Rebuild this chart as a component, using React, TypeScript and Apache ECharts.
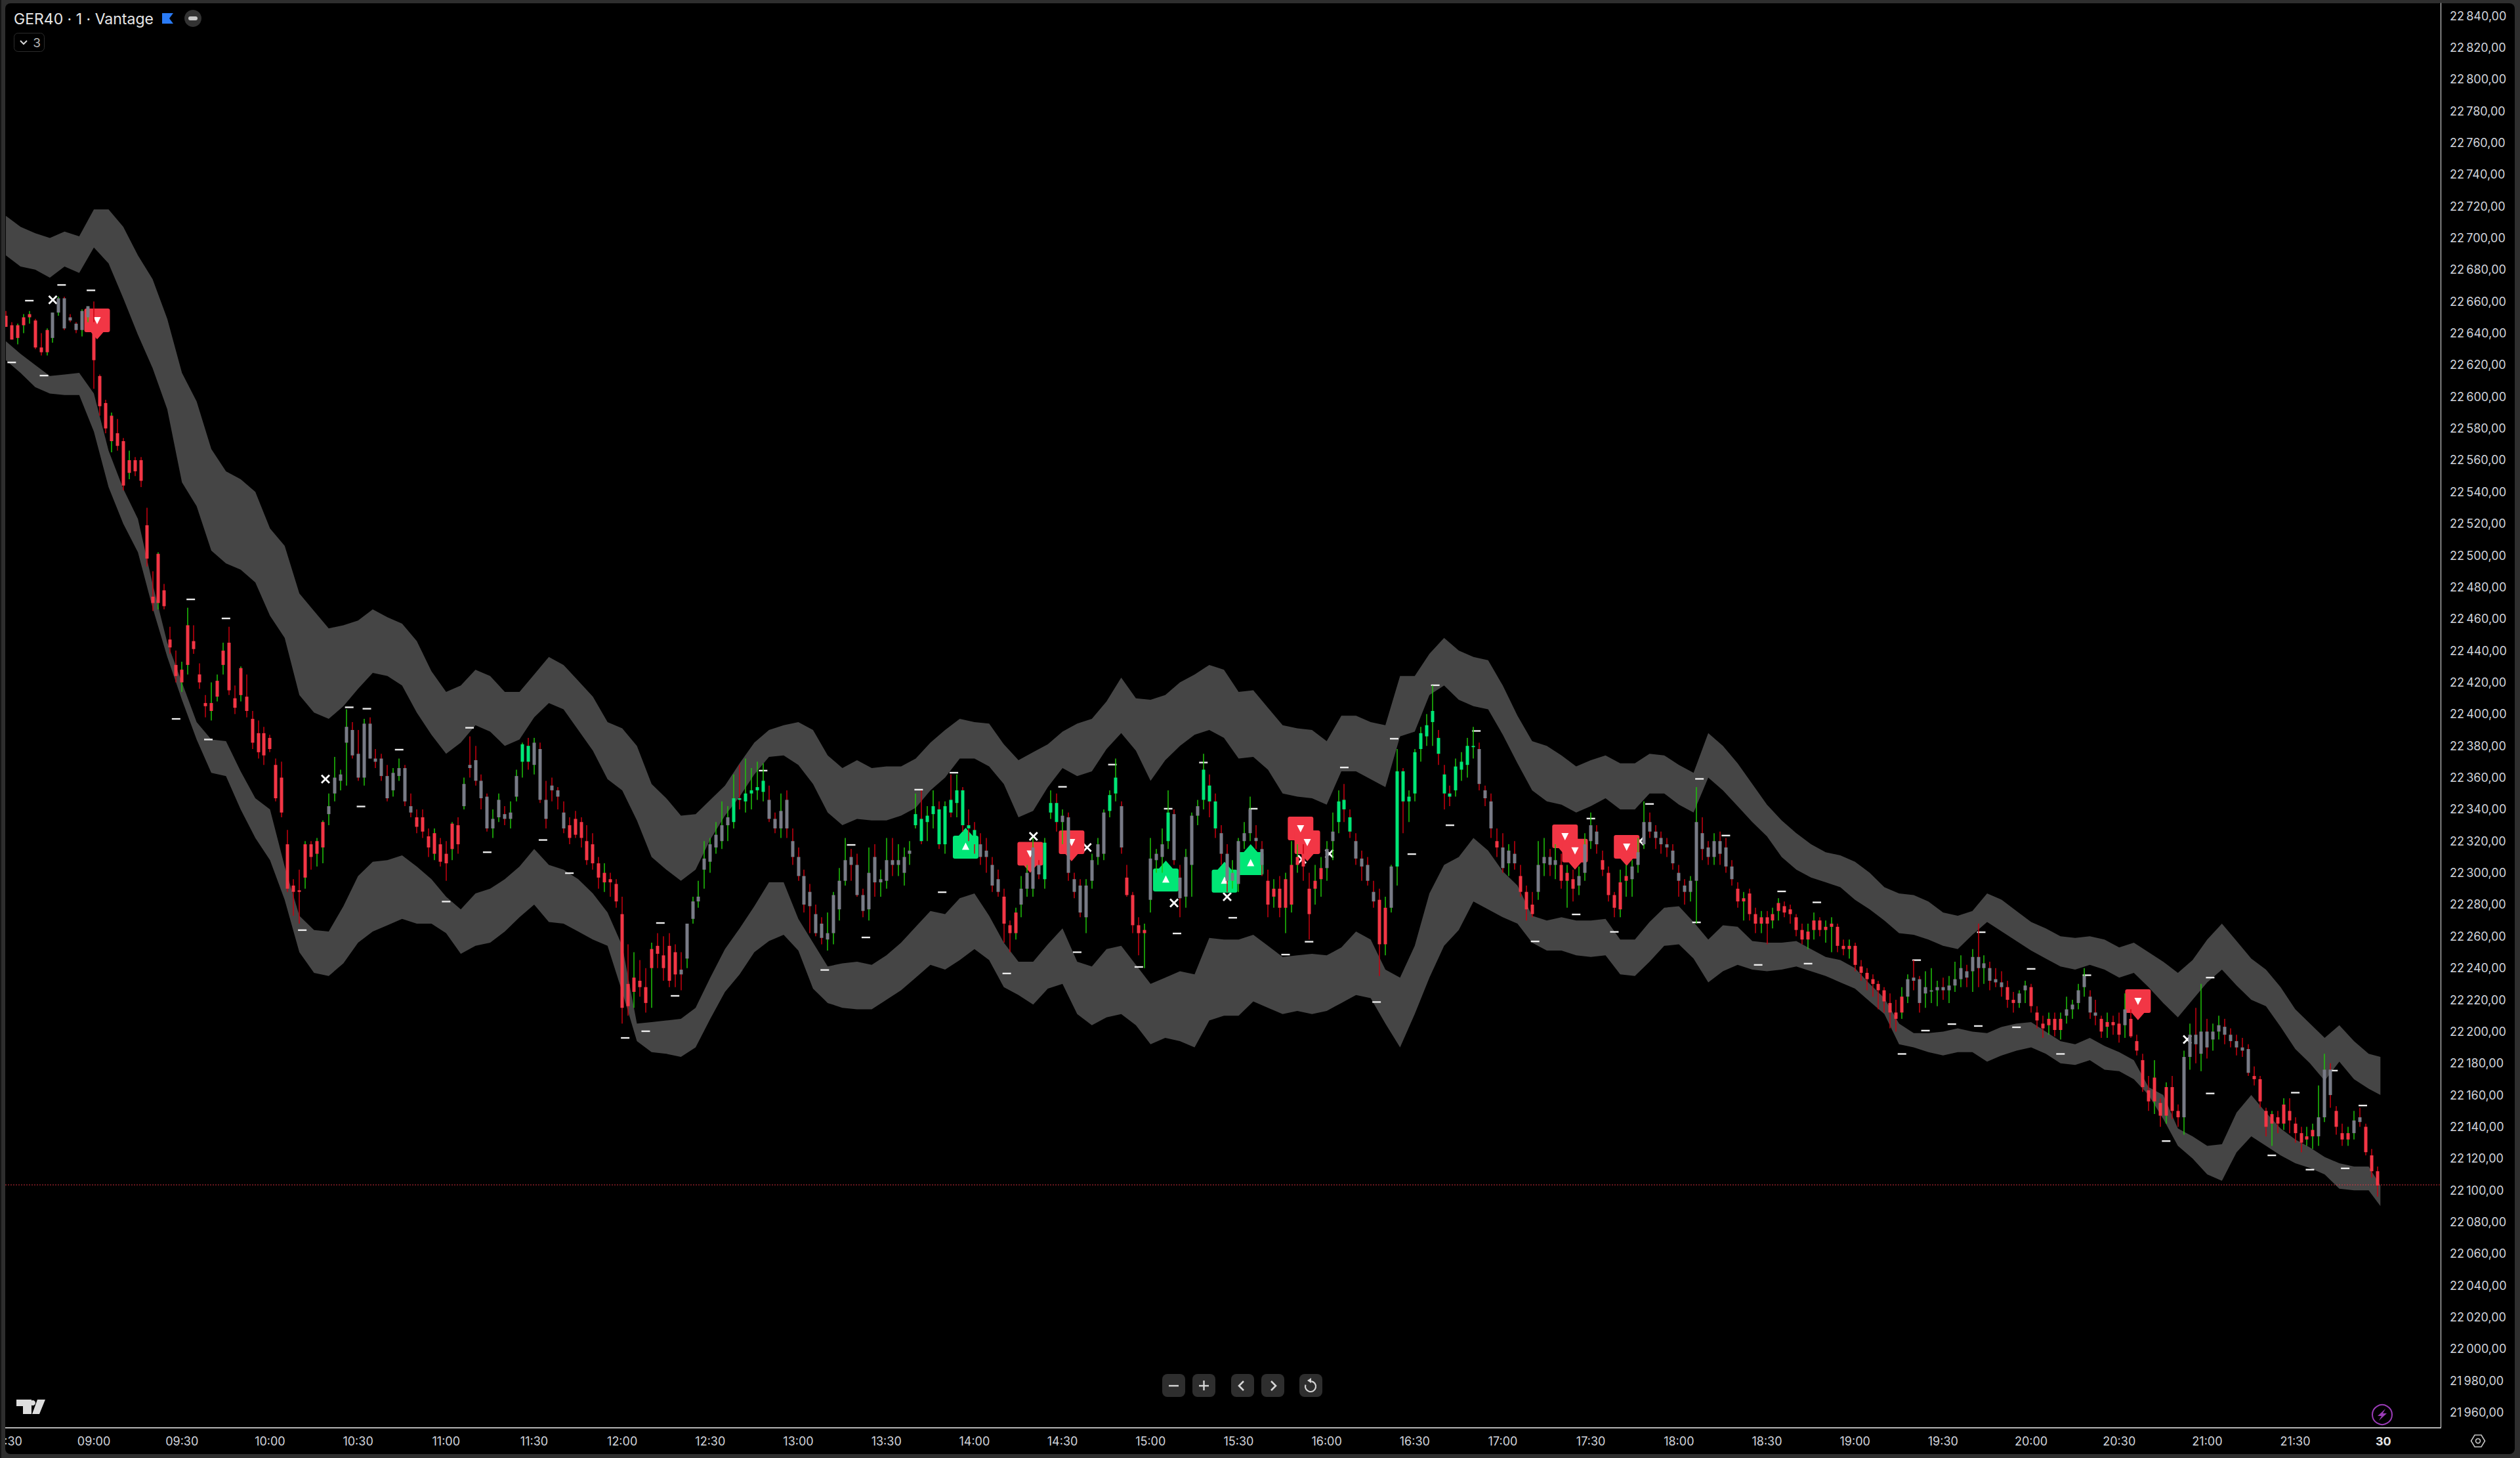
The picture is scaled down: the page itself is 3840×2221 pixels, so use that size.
import React, { useEffect, useRef } from "react";
import * as echarts from "echarts";

const PRICE_BASE = 22000;
const priceTicks = [21960,21980,22000,22020,22040,22060,22080,22100,22120,22140,22160,22180,22200,22220,22240,22260,22280,22300,22320,22340,22360,22380,22400,22420,22440,22460,22480,22500,22520,22540,22560,22580,22600,22620,22640,22660,22680,22700,22720,22740,22760,22780,22800,22820,22840];
const timeTicks = [-30,0,30,60,90,120,150,180,210,240,270,300,330,360,390,420,450,480,510,540,570,600,630,660,690,720,750,780];
const timeLabels = ["08:30","09:00","09:30","10:00","10:30","11:00","11:30","12:00","12:30","13:00","13:30","14:00","14:30","15:00","15:30","16:00","16:30","17:00","17:30","18:00","18:30","19:00","19:30","20:00","20:30","21:00","21:30","30"];
const lastPrice = 22103.4;

const bandMinutes = [-30,-25,-20,-15,-10,-5,0,5,10,15,20,25,30,35,40,45,50,55,60,65,70,75,80,85,90,95,100,105,110,115,120,125,130,135,140,145,150,155,160,165,170,175,180,185,190,195,200,205,210,215,220,225,230,235,240,245,250,255,260,265,270,275,280,285,290,295,300,305,310,315,320,325,330,335,340,345,350,355,360,365,370,375,380,385,390,395,400,405,410,415,420,425,430,435,440,445,450,455,460,465,470,475,480,485,490,495,500,505,510,515,520,525,530,535,540,545,550,555,560,565,570,575,580,585,590,595,600,605,610,615,620,625,630,635,640,645,650,655,660,665,670,675,680,685,690,695,700,705,710,715,720,725,730,735,740,745,750,755,760,765,770,775,779];

const upperBandTop = [
714,707,703,700,704,701,718,718,707,689,674,649,
615,597,567,553,548,540,517,506,476,465,454,456,
459,466,461,457,446,427,414,418,428,424,414,414,
425,436,431,421,411,395,391,380,356,347,336,337,
346,355,369,382,390,393,395,390,374,366,371,366,
367,367,372,382,390,397,395,394,381,371,376,381,
389,394,397,408,423,410,409,412,420,425,431,428,
414,415,404,393,391,390,383,399,399,395,393,424,
424,438,448,440,436,434,418,399,383,380,374,367,
371,374,369,369,375,374,368,363,388,380,369,356,
343,333,325,318,313,311,307,300,291,287,286,282,
275,273,276,287,283,276,269,265,260,259,260,258,
253,256,250,244,237,245,258,268,257,246,239,228,
214,205,196,204,194,186,184];
const upperBandBottom = [
689,682,680,675,682,678,694,684,662,639,618,592,
546,531,503,495,491,483,462,448,412,401,397,405,
416,426,424,418,401,387,375,382,393,389,380,384,
398,407,403,390,377,359,352,333,310,302,295,302,
321,336,348,362,373,374,368,356,338,330,334,333,
333,336,341,352,360,372,372,367,356,335,339,354,
366,361,364,378,388,377,358,371,380,387,390,385,
372,373,365,350,348,347,343,364,364,359,354,386,
389,412,418,409,405,403,387,369,352,345,343,338,
342,347,340,340,350,350,343,338,360,352,342,332,
323,310,302,297,294,291,283,277,270,262,261,258,
254,252,261,269,263,257,251,246,241,239,242,239,
234,237,228,218,209,220,231,239,229,220,216,203,
189,180,169,181,170,164,160];
const lowerBandTop = [
635,627,620,613,614,615,602,566,542,523,482,445,
420,395,384,383,364,347,340,304,273,264,263,279,
298,307,308,311,304,296,285,277,287,290,296,304,
315,305,302,296,287,275,254,205,206,207,208,215,
234,252,265,279,294,294,271,256,241,243,244,242,
248,256,266,276,274,284,287,273,256,244,244,255,
265,244,241,252,254,242,230,234,238,236,259,258,
258,261,254,247,248,249,248,253,263,258,239,234,
254,287,305,310,322,314,301,292,273,270,272,270,
270,271,258,258,269,278,279,269,258,267,266,257,
256,256,257,252,247,245,240,230,221,205,199,199,
200,202,200,199,203,205,206,200,194,192,196,191,
187,182,165,160,139,134,128,129,149,160,149,139,
132,127,121,117,115,115,103];
const lowerBandBottom = [
623,615,606,602,601,601,578,543,520,502,467,436,
409,384,363,361,340,322,308,283,250,237,235,243,
256,263,267,271,268,268,262,249,254,256,263,272,
280,269,268,263,258,254,225,194,187,186,184,190,
208,225,236,250,257,261,251,227,218,215,214,214,
220,226,234,242,239,245,252,245,228,223,217,227,
230,211,204,209,211,204,192,196,194,190,207,210,
210,219,215,211,213,211,213,218,223,221,205,190,
211,234,254,264,282,277,272,268,256,251,251,248,
247,248,236,235,244,254,255,246,231,238,242,239,
238,239,241,238,235,231,227,219,211,192,190,187,
185,187,187,181,185,188,190,186,180,179,182,176,
175,170,160,145,128,120,110,106,124,134,128,122,
117,114,110,101,100,100,90];

// Two-minute candles [open, high, low, close], offsets from PRICE_BASE
const candles0830 = [[651,654,644,644],[645,647,636,636],[637,646,633,645],[645,652,640,650],[650,654,646,652],[648,649,630,631],[631,640,626,628],[628,643,626,642],[637,653,634,653],[653,663,651,662],[662,663,642,643],[650,652,647,648],[646,647,640,642],[642,655,638,654],[650,657,647,657]];
const candles0900 = [[647,660,605,623],[613,614,588,594],[596,598,577,580],[572,590,565,588],[577,586,566,569],[572,574,541,544],[552,566,548,560],[560,562,550,553],[560,562,543,547],[519,530,493,498],[474,490,465,470],[470,502,466,501],[478,482,466,468],[447,455,438,442],[431,440,420,424],[420,433,414,428],[431,467,425,456],[446,456,438,441],[425,432,416,420],[407,412,398,405],[402,420,396,407],[411,425,408,421],[431,445,425,440],[445,455,412,415],[410,418,400,404],[412,430,408,429],[411,425,398,402],[397,402,378,382],[388,396,372,376],[388,392,368,374]];
const candles1000 = [[385,387,376,378],[368,372,345,347],[360,370,335,338],[318,327,288,290],[292,296,273,288],[289,302,268,288],[297,320,290,318],[318,320,302,310],[312,322,304,320],[316,333,306,332],[337,350,330,342],[350,373,345,360],[358,365,352,362],[382,403,355,392],[390,395,372,374],[375,390,358,360],[360,397,355,394],[394,398,372,372],[372,378,366,370],[372,375,358,361],[361,368,345,347],[352,366,348,363],[361,372,358,366],[366,368,342,345],[342,350,335,338],[335,340,325,329],[335,340,322,326],[323,328,310,316],[312,328,308,325],[318,322,304,307]];
const candles1100 = [[312,320,295,306],[315,332,308,331],[330,335,312,318],[342,360,340,356],[368,386,360,366],[371,380,355,358],[358,362,340,347],[348,350,326,328],[328,340,322,334],[335,350,332,346],[337,342,330,334],[334,345,328,338],[348,365,345,361],[370,382,360,381],[380,385,365,370],[368,385,362,382],[378,382,344,346],[346,358,328,334],[355,360,345,352],[352,354,340,348],[338,345,325,328],[330,335,318,322],[334,339,322,324],[332,335,316,322],[320,330,305,308],[318,325,302,306],[306,310,290,297],[294,306,288,300],[296,300,285,294],[293,296,278,282]];
const candles1200 = [[274,285,205,215],[230,255,210,216],[225,250,215,234],[232,245,222,228],[228,240,212,218],[240,256,215,252],[254,262,240,249],[248,260,232,240],[254,262,228,232],[250,255,228,236],[239,250,226,236],[246,268,240,268],[271,285,268,282],[282,295,278,285],[302,320,290,309],[307,322,300,318],[316,332,312,324],[320,345,315,330],[330,342,320,335],[332,362,328,347],[347,368,340,346],[345,372,338,350],[350,366,340,352],[352,370,346,354],[351,369,345,358],[346,355,332,334],[334,338,325,328],[328,350,322,339],[346,352,322,328],[320,328,305,310]];
const candles1300 = [[310,316,295,298],[298,302,275,280],[288,293,262,279],[274,280,260,262],[268,272,255,259],[258,275,251,262],[262,288,255,286],[277,303,270,295],[295,322,292,308],[310,315,295,305],[305,312,285,286],[286,290,272,276],[277,316,270,300],[310,318,285,294],[294,302,285,296],[295,322,290,308],[308,322,298,305],[305,318,298,308],[300,316,292,310],[312,320,305,314],[330,350,328,337],[334,352,318,320],[332,342,320,336],[337,352,328,342],[340,345,315,318],[318,345,312,342],[346,362,335,338],[344,362,335,352],[352,354,326,330],[330,340,320,328]];
const candles1400 = [[327,332,312,318],[318,325,305,310],[314,322,300,310],[305,310,288,292],[296,302,285,288],[285,290,256,268],[267,270,250,262],[262,278,258,275],[280,298,272,290],[290,305,285,300],[290,322,285,316],[305,308,296,299],[296,322,290,319],[338,352,334,344],[344,350,326,332],[332,340,318,336],[335,338,295,300],[296,300,284,288],[292,296,272,275],[272,296,262,292],[295,312,290,308],[310,322,305,318],[312,340,308,338],[339,352,335,349],[350,372,345,360],[342,345,312,316],[297,305,285,286],[286,288,262,267],[267,272,248,262],[262,268,240,264]];
const candles1500 = [[283,322,275,309],[308,315,300,312],[310,328,300,318],[320,352,315,338],[337,340,305,308],[297,305,272,284],[285,315,278,310],[305,338,285,336],[336,346,330,342],[346,375,340,365],[355,362,335,345],[345,350,322,328],[325,330,305,312],[312,318,288,295],[295,308,290,300],[293,322,288,320],[320,332,315,325],[325,348,320,340],[322,330,315,320],[315,320,298,305],[295,302,272,280],[285,296,278,290],[290,298,272,278],[278,300,262,296],[280,320,275,305],[305,318,300,310],[312,318,295,304],[290,300,258,274],[290,305,280,295],[296,310,285,303]];
const candles1600 = [[303,320,295,315],[320,338,308,326],[332,352,325,345],[346,356,332,340],[335,340,322,326],[320,325,305,309],[309,314,295,304],[305,310,292,295],[288,295,278,282],[283,290,235,255],[255,285,248,278],[278,305,275,304],[304,378,292,364],[364,366,325,345],[345,352,332,348],[350,378,345,376],[378,392,370,388],[386,400,380,393],[395,418,380,402],[385,390,368,375],[362,368,340,350],[350,355,342,348],[352,372,348,367],[365,376,358,370],[368,385,360,380],[380,392,372,380],[378,382,352,356],[352,355,342,347],[345,350,322,328],[320,328,310,316]];
const candles1700 = [[316,325,300,303],[306,318,298,314],[312,320,302,306],[298,305,285,288],[288,292,270,277],[280,288,272,274],[288,320,283,305],[306,322,298,310],[310,315,298,305],[305,318,296,308],[305,312,290,295],[295,305,278,300],[296,302,282,290],[292,304,286,298],[300,325,295,318],[320,338,315,330],[326,330,312,318],[308,314,298,302],[300,304,282,286],[286,288,272,278],[277,302,272,294],[295,305,285,298],[296,308,285,304],[305,322,300,313],[318,345,315,332],[332,338,322,326],[326,330,315,322],[322,326,312,318],[318,322,310,316],[314,318,302,306]];
const candles1800 = [[300,305,285,295],[292,296,280,288],[288,298,282,295],[295,354,268,332],[325,335,308,315],[316,320,305,310],[310,325,305,320],[320,326,305,312],[316,322,300,304],[304,308,292,296],[290,294,278,282],[282,288,270,284],[287,290,270,274],[274,278,262,268],[268,276,262,272],[272,276,255,268],[270,278,265,274],[276,284,270,281],[279,282,272,275],[277,280,268,274],[272,274,260,264],[264,268,255,258],[258,268,252,263],[264,275,258,270],[270,272,260,264],[264,270,256,266],[266,272,250,268],[266,268,250,254],[254,258,248,252],[252,258,246,254]];
const candles1900 = [[254,256,238,242],[241,245,232,237],[237,240,226,233],[233,236,222,230],[230,232,214,226],[226,228,212,219],[218,224,202,212],[212,220,200,208],[212,228,208,222],[222,236,218,233],[234,245,226,232],[233,235,212,218],[224,238,215,228],[226,240,218,226],[226,232,216,228],[228,234,220,226],[226,235,218,229],[229,244,225,233],[233,248,228,240],[238,242,228,234],[238,252,225,247],[247,268,228,240],[240,248,230,243],[240,244,226,232],[233,240,228,231],[231,238,222,228],[228,232,215,220],[220,225,212,218],[218,226,215,224],[226,232,218,229]];
const candles2000 = [[228,230,212,216],[212,216,202,207],[205,210,196,202],[204,212,198,208],[208,212,197,201],[201,212,195,208],[210,222,205,214],[214,220,208,217],[218,230,214,226],[228,240,222,235],[222,226,208,212],[212,220,204,210],[208,210,196,200],[203,212,196,206],[206,210,198,204],[205,212,193,198],[204,224,196,214],[208,214,196,197],[194,198,185,188],[182,186,162,165],[163,172,150,156],[156,182,148,171],[155,158,140,147],[147,168,142,165],[165,172,145,150],[150,154,140,146],[146,188,135,184],[184,205,176,198],[198,215,180,192],[186,230,175,200]];
const candles2100 = [[200,208,183,190],[195,205,188,200],[200,210,195,204],[203,208,192,198],[198,202,190,194],[194,198,185,190],[190,196,184,188],[189,192,172,174],[172,178,166,170],[170,172,152,156],[150,152,134,140],[142,150,128,148],[146,150,136,142],[142,158,138,154],[150,158,136,144],[142,146,130,136],[136,140,124,130],[132,140,128,134],[134,142,126,138],[134,166,128,146],[146,186,143,176],[176,180,152,160],[150,153,135,140],[136,142,128,132],[132,140,128,136],[136,150,132,144],[146,152,140,143],[140,142,122,124],[122,126,108,112],[112,115,96,103]];
const allCandles = [candles0830,candles0900,candles1000,candles1100,candles1200,candles1300,candles1400,candles1500,candles1600,candles1700,candles1800,candles1900,candles2000,candles2100].flat();
const firstCandleMinute = -30;
const candleStep = 2;

// From which minute each body colour runs: r = red, g = green, n = neutral grey
const toneRuns: [number,string][] = [[-30,"r"],[-15,"n"],[-1,"r"],[80,"n"],[110,"r"],[126,"n"],[146,"g"],[150,"n"],[161,"r"],[200,"n"],[218,"g"],[230,"n"],[280,"g"],[302,"n"],[310,"r"],[316,"n"],[323,"g"],[330,"n"],[345,"g"],[350,"n"],[352,"r"],[360,"n"],[366,"g"],[368,"n"],[377,"g"],[384,"n"],[400,"r"],[420,"n"],[423,"g"],[430,"n"],[438,"r"],[442,"n"],[444,"g"],[472,"n"],[477,"r"],[480,"n"],[486,"r"],[492,"n"],[500,"r"],[505,"n"],[514,"r"],[524,"n"],[560,"r"],[618,"n"],[652,"r"],[656,"n"],[660,"r"],[672,"n"],[684,"r"],[692,"n"],[694,"r"],[712,"n"],[736,"r"],[758,"n"],[764,"r"],[770,"n"],[774,"r"]];

const pivots = [[-22,22660.5],[-11,22670.4],[-1,22667],[-28,22621.6],[-17,22613.3],[33,22472.3],[45,22460.3],[28,22397],[39,22384],[87,22404.3],[93,22403.4],[104,22377.6],[91,22341.8],[128,22391.4],[153,22320.7],[134,22313],[162,22299.8],[120,22281.9],[71,22263.9],[181,22196],[188,22200.2],[193,22268.4],[228,22364.4],[281,22352.4],[258,22317.6],[293,22363.1],[289,22287.8],[263,22259.3],[249,22238.8],[198,22222.5],[311,22236.6],[330,22354.2],[335,22250],[347,22368.2],[366,22340.4],[378,22369.5],[395,22340.4],[388,22271.7],[369,22261.8],[356,22240.7],[426,22366.4],[414,22256.6],[406,22248.5],[437,22218.6],[443,22384.5],[457,22418.2],[471,22389.4],[462,22330],[449,22311.8],[491,22256.8],[510,22334.2],[505,22273.8],[530,22343.4],[518,22262.8],[547,22359.2],[546,22268.8],[556,22323.5],[567,22242],[575,22288.3],[587,22281.4],[584,22242.8],[621,22245],[633,22204.7],[624,22200.6],[616,22185.9],[643,22262.6],[660,22239.5],[679,22235.5],[642,22203.5],[655,22202.7],[670,22185.9],[706,22131],[721,22234],[721,22161],[742,22122],[750,22161.5],[763,22175.4],[755,22113],[767,22113.8],[773,22153.4]];
const crossMarks = [[-14,22661],[78.9,22359.1],[320.1,22323],[338.4,22316],[368,22281],[386.1,22285],[411.6,22308.5],[420.9,22312],[526.7,22320],[713.2,22195]];
const sellFlags = [[1.1,22636.1],[319,22300],[333.1,22307.3],[411.1,22316],[413.4,22307.3],[501.2,22311],[504.6,22302],[522.2,22304.4],[696.4,22207.2]];
const buyFlags = [[297,22328.4],[365.2,22307.7],[385.2,22307],[394.1,22318]];

const RED = "#f23645", GREEN = "#00e676", GREY = "#787b86", WICK_RED = "#c8000f", WICK_GREEN = "#1fc40a", BAND = "#454545";
const SELL_PATH = "path://M3 0H36Q39 0 39 3V33Q39 36 36 36H29L19.5 47L10 36H3Q0 36 0 33V3Q0 0 3 0Z";
const BUY_PATH = "path://M19.5 0L30 12H36Q39 12 39 15V44Q39 47 36 47H3Q0 47 0 44V15Q0 12 3 12H9Z";
const CROSS_PATH = "path://M2 0L7 5L12 0L14 2L9 7L14 12L12 14L7 9L2 14L0 12L5 7L0 2Z";

function toneAt(minute: number) {
  let t = "r";
  for (const [m, c] of toneRuns) if (minute >= m) t = c;
  return t;
}

function bandSeries(name: string, top: number[], bottom: number[]) {
  const data = bandMinutes.map((m, i) => [m, PRICE_BASE + top[i], PRICE_BASE + bottom[i]]);
  return {
    type: "custom", name, z: 1, silent: true, clip: true, data,
    encode: { x: 0, y: [1, 2] },
    renderItem: (params: any, api: any) => {
      if (params.dataIndex !== 0) return null;
      const pts: number[][] = [];
      data.forEach((d) => pts.push(api.coord([d[0], d[1]])));
      data.slice().reverse().forEach((d) => pts.push(api.coord([d[0], d[2]])));
      return { type: "polygon", shape: { points: pts }, style: { fill: BAND } };
    },
  };
}

const FONT = "Inter";
const LINE = "#d6d6d6";
function btn(x: number) {
  return { type: "rect", z: 50, shape: { x, y: 2093, width: 35, height: 35, r: 8 }, style: { fill: "#2e2e2e" } };
}
const glyph = (points: number[][], width = 2.4, stroke = LINE) => ({ type: "polyline", z: 51, shape: { points }, style: { stroke, lineWidth: width, fill: "none" } });

const graphics: any[] = [
  { type: "rect", z: -5, shape: { x: 8, y: 5, width: 3824, height: 2210, r: 8 }, style: { fill: "#000" } },
  { type: "rect", z: 40, shape: { x: 0, y: 0, width: 8, height: 2221 }, style: { fill: "#2e2e2e" } },
  { type: "rect", z: 41, shape: { x: 0, y: 0, width: 2, height: 2221 }, style: { fill: "#141414" } },
  { type: "text", z: 50, style: { text: "GER40 · 1 · Vantage", x: 21, y: 29, verticalAlign: "middle", fill: "#e6e6e6", fontFamily: FONT, fontSize: 23 } },
  { type: "polygon", z: 50, shape: { points: [[247,20],[264,20],[258,28],[264,36],[247,36]] }, style: { fill: "#2a7bf6" } },
  { type: "circle", z: 50, shape: { cx: 294, cy: 28, r: 13 }, style: { fill: "#333" } },
  { type: "rect", z: 51, shape: { x: 287, y: 25, width: 14, height: 6, r: 3 }, style: { fill: "#c8c8c8" } },
  { type: "rect", z: 50, shape: { x: 21.5, y: 50.5, width: 46, height: 28, r: 6 }, style: { fill: "none", stroke: "#2c2c2c", lineWidth: 1 } },
  glyph([[31,62],[36,67],[41,62]], 2),
  { type: "text", z: 50, style: { text: "3", x: 56, y: 65, align: "center", verticalAlign: "middle", fill: "#b5b5b5", fontFamily: FONT, fontSize: 19 } },
  { type: "polygon", z: 50, shape: { points: [[25,2132],[48,2132],[48,2154],[35,2154],[35,2142],[25,2142]] }, style: { fill: "#dedede" } },
  { type: "circle", z: 50, shape: { cx: 50, cy: 2137, r: 4 }, style: { fill: "#dedede" } },
  { type: "polygon", z: 50, shape: { points: [[57,2132],[69,2132],[60,2154],[49,2154]] }, style: { fill: "#dedede" } },
  btn(1771), btn(1817), btn(1876), btn(1922), btn(1980),
  glyph([[1781,2111],[1796,2111]]),
  glyph([[1827,2111],[1842,2111]]), glyph([[1834.5,2103],[1834.5,2118]]),
  glyph([[1895,2104],[1888,2111],[1895,2118]], 2.6), glyph([[1937,2104],[1944,2111],[1937,2118]], 2.6),
  { type: "arc", z: 51, shape: { cx: 1997, cy: 2112, r: 8, startAngle: -Math.PI * 0.45, endAngle: Math.PI * 1.1, clockwise: true }, style: { stroke: LINE, lineWidth: 2.2, fill: "none" } },
  { type: "polygon", z: 51, shape: { points: [[1998,2099],[1998,2107],[1992,2103]] }, style: { fill: LINE } },
  { type: "circle", z: 50, shape: { cx: 3630, cy: 2155, r: 15 }, style: { fill: "none", stroke: "#9b3cb8", lineWidth: 2 } },
  { type: "polygon", z: 50, shape: { points: [[3635,2146],[3623,2157],[3629,2157],[3625,2164],[3637,2153],[3631,2153]] }, style: { fill: "#9b3cb8" } },
  { type: "polygon", z: 50, shape: { points: [[3765.5,2195],[3771,2186],[3781,2186],[3786.5,2195],[3781,2204],[3771,2204]] }, style: { fill: "none", stroke: "#c4c4c4", lineWidth: 1.6 } },
  { type: "circle", z: 50, shape: { cx: 3776, cy: 2195, r: 3.5 }, style: { fill: "none", stroke: "#c4c4c4", lineWidth: 1.6 } },
];

export default function App() {
  const ref = useRef<HTMLDivElement>(null);
  useEffect(() => {
    document.body.style.margin = "0";
    document.body.style.background = "#2e2e2e";
    const chart = echarts.init(ref.current!, undefined, { renderer: "svg" });
    const rows = allCandles.map((c, i) => {
      const minute = firstCandleMinute + candleStep * i;
      return [minute, PRICE_BASE + c[0], PRICE_BASE + c[1], PRICE_BASE + c[2], PRICE_BASE + c[3]];
    });
    chart.setOption({
      animation: false,
      backgroundColor: "#2e2e2e",
      grid: { left: 8, top: 5, width: 3711, height: 2170, containLabel: false, outerBoundsMode: "none" },
      xAxis: {
        type: "value", min: -30.2, max: 799.5, splitLine: { show: false },
        axisLine: { onZero: false, lineStyle: { color: "#b4b4b4", width: 2 } }, axisTick: { show: false },
        axisLabel: {
          customValues: timeTicks, margin: 11, color: "#d1d4dc", fontFamily: FONT, fontSize: 18,
          hideOverlap: false, showMinLabel: true, showMaxLabel: true,
          formatter: (v: number) => { const t = timeLabels[timeTicks.indexOf(v)] ?? ""; return t === "30" ? "{b|30}" : t; },
          rich: { b: { fontWeight: 700, fontSize: 18, fontFamily: FONT, color: "#e6e6e6" } },
        },
      },
      yAxis: {
        type: "value", position: "right", min: 21950.35, max: 22847.86, splitLine: { show: false },
        axisLine: { show: true, onZero: false, lineStyle: { color: "#e8e8e8", width: 1 } }, axisTick: { show: false },
        axisLabel: {
          customValues: priceTicks, margin: 14, color: "#d1d4dc", fontFamily: FONT, fontSize: 18, align: "left", hideOverlap: false,
          formatter: (v: number) => { const s = String(Math.round(v)); return s.slice(0, 2) + "\u202f" + s.slice(2) + ",00"; },
        },
      },
      series: [
        bandSeries("upper band", upperBandTop, upperBandBottom),
        bandSeries("lower band", lowerBandTop, lowerBandBottom),
        { type: "line", name: "last price", z: 1, silent: true, showSymbol: false, data: [[-30.2, lastPrice], [799.5, lastPrice]], lineStyle: { color: RED, width: 1, type: [2, 2], opacity: 0.85 } },
        { type: "scatter", name: "pivots", z: 2, silent: true, symbol: "rect", symbolSize: [13, 2.4], data: pivots, itemStyle: { color: "#ececec", opacity: 1 } },
        { type: "scatter", name: "crosses", z: 2, silent: true, symbol: CROSS_PATH, symbolSize: 14, data: crossMarks, itemStyle: { color: "#ffffff", opacity: 1 } },
        { type: "scatter", name: "sell", z: 3, silent: true, symbol: SELL_PATH, symbolSize: [39, 47], symbolOffset: [0, -23.5], data: sellFlags, itemStyle: { color: RED, opacity: 1 } },
        { type: "scatter", name: "sell arrow", z: 3, silent: true, symbol: "triangle", symbolRotate: 180, symbolSize: [11, 11], symbolOffset: [0, -28.5], data: sellFlags, itemStyle: { color: "#fff", opacity: 1 } },
        { type: "scatter", name: "buy", z: 3, silent: true, symbol: BUY_PATH, symbolSize: [39, 47], symbolOffset: [0, 23.5], data: buyFlags, itemStyle: { color: GREEN, opacity: 1 } },
        { type: "scatter", name: "buy arrow", z: 3, silent: true, symbol: "triangle", symbolSize: [11, 11], symbolOffset: [0, 28], data: buyFlags, itemStyle: { color: "#fff", opacity: 1 } },
        {
          type: "custom", name: "GER40", z: 5, silent: true, clip: true, data: rows,
          encode: { x: 0, y: [1, 2, 3, 4] },
          renderItem: (params: any, api: any) => {
            const m = api.value(0), o = api.value(1), h = api.value(2), l = api.value(3), c = api.value(4);
            const po = api.coord([m, o]), pc = api.coord([m, c]), ph = api.coord([m, h]), pl = api.coord([m, l]);
            const tone = toneAt(m);
            const fill = tone === "r" ? RED : tone === "g" ? GREEN : GREY;
            const wick = c >= o ? WICK_GREEN : WICK_RED;
            const x = Math.round(po[0]);
            const bw = 5;
            const top = Math.min(po[1], pc[1]);
            const bh = Math.max(Math.abs(po[1] - pc[1]), 2);
            return {
              type: "group",
              children: [
                { type: "line", shape: { x1: x, y1: ph[1], x2: x, y2: pl[1] }, style: { stroke: wick, lineWidth: 1.5 } },
                { type: "rect", shape: { x: x - bw / 2, y: top, width: bw, height: bh }, style: { fill } },
              ],
            };
          },
        },
      ],
      graphic: { elements: graphics },
    });
    return () => chart.dispose();
  }, []);
  return <div ref={ref} style={{ position: "fixed", left: 0, top: 0, width: 3840, height: 2221 }} />;
}
